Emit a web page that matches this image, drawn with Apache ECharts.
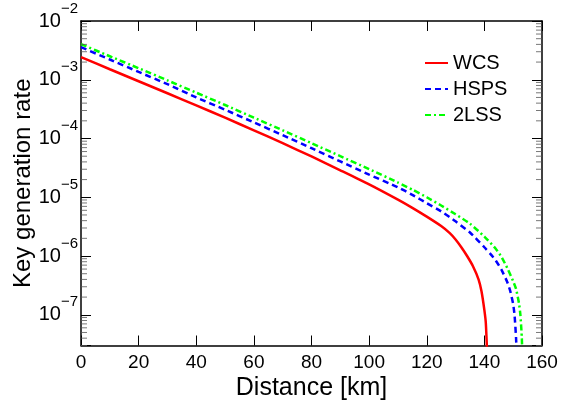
<!DOCTYPE html>
<html>
<head>
<meta charset="utf-8">
<script src="https://cdn.jsdelivr.net/npm/echarts@6/dist/echarts.min.js"></script>
<style>
html,body{margin:0;padding:0;background:#fff;}
#chart{width:570px;height:400px;}
</style>
</head>
<body>
<div id="chart"></div>
<script>
// ---- Data ----
var seriesNames = ['WCS', 'HSPS', '2LSS'];

var wcsX = [0, 10, 20, 30, 40, 50, 60, 70, 80, 90, 100, 110, 115, 120, 125, 128, 130, 132, 134, 136, 138, 139, 140, 140.5, 141];
var wcsY = [2.43e-3, 1.51e-3, 9.44e-4, 5.89e-4, 3.67e-4, 2.26e-4, 1.38e-4, 8.32e-5, 4.95e-5, 2.88e-5, 1.66e-5, 9.12e-6, 6.61e-6, 4.68e-6, 3.24e-6, 2.45e-6, 1.91e-6, 1.41e-6, 1.0e-6, 6.76e-7, 3.98e-7, 2.51e-7, 1.20e-7, 7.24e-8, 2.0e-8];

var hspsX = [0, 10, 20, 30, 40, 50, 60, 70, 80, 90, 100, 110, 115, 120, 125, 130, 135, 140, 142, 144, 146, 148, 149, 150, 150.5, 151, 151.3];
var hspsY = [3.59e-3, 2.21e-3, 1.36e-3, 8.41e-4, 5.01e-4, 3.09e-4, 1.88e-4, 1.14e-4, 6.84e-5, 4.07e-5, 2.43e-5, 1.48e-5, 1.10e-5, 7.94e-6, 5.75e-6, 3.89e-6, 2.51e-6, 1.41e-6, 1.10e-6, 8.32e-7, 5.75e-7, 3.55e-7, 2.51e-7, 1.51e-7, 9.55e-8, 3.98e-8, 1.58e-8];

var lssX = [0, 10, 20, 30, 40, 50, 60, 70, 80, 90, 100, 110, 115, 120, 125, 130, 135, 140, 144, 146, 148, 150, 151, 152, 152.5, 153, 153.3];
var lssY = [4.03e-3, 2.51e-3, 1.57e-3, 9.77e-4, 6.03e-4, 3.72e-4, 2.26e-4, 1.38e-4, 8.32e-5, 5.01e-5, 3.02e-5, 1.78e-5, 1.35e-5, 1.0e-5, 7.24e-6, 5.13e-6, 3.55e-6, 2.14e-6, 1.32e-6, 9.55e-7, 6.17e-7, 3.72e-7, 2.75e-7, 1.58e-7, 1.0e-7, 3.98e-8, 1.26e-8];

var xMin = 0, xMax = 160, xStep = 20;
var yMin = 3e-8, yMax = 1e-2;
var minorMultipliers = [2, 3, 4, 5, 6, 7, 8, 9];
var decades = [-8, -7, -6, -5, -4, -3];

function zip(xs, ys) { return xs.map(function (x, i) { return [x, ys[i]]; }); }

// minor log ticks (axis decoration), placed on left (xMin) and right (xMax) frame edges
var minorLeft = [], minorRight = [];
decades.forEach(function (e) {
  minorMultipliers.forEach(function (m) {
    var v = m * Math.pow(10, e);
    if (v >= yMin && v <= yMax) { minorLeft.push([xMin, v]); minorRight.push([xMax, v]); }
  });
});

var FONT = 'Liberation Sans, Arial, Helvetica, sans-serif';

function yLabel(v) {
  var e = Math.log10(v);
  var r = Math.round(e);
  if (Math.abs(e - r) > 1e-6) return '';
  var s = r < 0 ? '\u2212' + Math.abs(r) : String(r);
  return '{b|10}{s|' + s + '}';
}

var chart = echarts.init(document.getElementById('chart'), null, {renderer: 'canvas'});
var option = {
  backgroundColor: '#ffffff',
  animation: false,
  grid: {left: 81, right: 28, top: 21, bottom: 54.5, containLabel: false, outerBoundsMode: 'none'},
  legend: {
    data: seriesNames,
    orient: 'vertical',
    left: 419,
    top: 48,
    itemWidth: 23,
    itemHeight: 14,
    itemGap: 6,
    itemStyle: {color: 'rgba(0,0,0,0)', borderColor: 'rgba(0,0,0,0)', borderWidth: 0, opacity: 0},
    textStyle: {fontFamily: FONT, fontSize: 20, color: '#000', lineHeight: 20},
    backgroundColor: 'transparent'
  },
  xAxis: [{
    type: 'value', min: xMin, max: xMax, interval: xStep,
    position: 'bottom',
    name: 'Distance [km]', nameLocation: 'middle', nameGap: 30, nameMoveOverlap: false,
    nameTextStyle: {fontFamily: FONT, fontSize: 25, color: '#000'},
    axisLine: {show: true, onZero: false, lineStyle: {color: '#000', width: 1.5}},
    axisTick: {show: true, inside: true, length: 10, lineStyle: {color: '#000', width: 1}},
    axisLabel: {fontFamily: FONT, fontSize: 19, color: '#000', margin: 8},
    splitLine: {show: false}
  }, {
    type: 'value', min: xMin, max: xMax, interval: xStep,
    position: 'top',
    axisLine: {show: true, onZero: false, lineStyle: {color: '#000', width: 1.5}},
    axisTick: {show: true, inside: true, length: 10, lineStyle: {color: '#000', width: 1}},
    axisLabel: {show: false},
    splitLine: {show: false}
  }],
  yAxis: [{
    type: 'log', logBase: 10, min: yMin, max: yMax,
    position: 'left',
    name: 'Key generation rate', nameLocation: 'middle', nameGap: 46, nameMoveOverlap: false,
    nameTextStyle: {fontFamily: FONT, fontSize: 24, color: '#000'},
    axisLine: {show: true, onZero: false, lineStyle: {color: '#000', width: 1.5}},
    axisTick: {show: true, inside: true, length: 10, lineStyle: {color: '#000', width: 1}},
    axisLabel: {
      formatter: yLabel, margin: 3,
      rich: {
        b: {fontFamily: FONT, fontSize: 20, color: '#000', lineHeight: 40, verticalAlign: 'middle'},
        s: {fontFamily: FONT, fontSize: 15, color: '#000', lineHeight: 20, verticalAlign: 'top'}
      }
    },
    splitLine: {show: false}
  }, {
    type: 'log', logBase: 10, min: yMin, max: yMax,
    position: 'right',
    axisLine: {show: true, onZero: false, lineStyle: {color: '#000', width: 1.5}},
    axisTick: {show: true, inside: true, length: 10, lineStyle: {color: '#000', width: 1}},
    axisLabel: {show: false},
    splitLine: {show: false}
  }],
  series: [{
    name: 'WCS', type: 'line', data: zip(wcsX, wcsY), symbol: 'none', smooth: 0.2,
    lineStyle: {color: '#ff0000', width: 2.5, type: 'solid'},
    itemStyle: {color: '#ff0000'}, z: 3
  }, {
    name: 'HSPS', type: 'line', data: zip(hspsX, hspsY), symbol: 'none', smooth: 0.2,
    lineStyle: {color: '#0000ff', width: 2.5, type: [6, 4]},
    itemStyle: {color: '#0000ff'}, z: 3
  }, {
    name: '2LSS', type: 'line', data: zip(lssX, lssY), symbol: 'none', smooth: 0.2,
    lineStyle: {color: '#00ff00', width: 2.5, type: [6, 3, 2, 3]},
    itemStyle: {color: '#00ff00'}, z: 3
  }, {
    name: 'minorTicksLeft', type: 'scatter', data: minorLeft, silent: true, clip: false, z: 4,
    symbol: 'rect', symbolSize: [6, 1], symbolOffset: [3, 0],
    itemStyle: {color: '#555'}, emphasis: {disabled: true}
  }, {
    name: 'minorTicksRight', type: 'scatter', data: minorRight, silent: true, clip: false, z: 4,
    symbol: 'rect', symbolSize: [6, 1], symbolOffset: [-3, 0],
    itemStyle: {color: '#555'}, emphasis: {disabled: true}
  }]
};
chart.setOption(option);
</script>
</body>
</html>
